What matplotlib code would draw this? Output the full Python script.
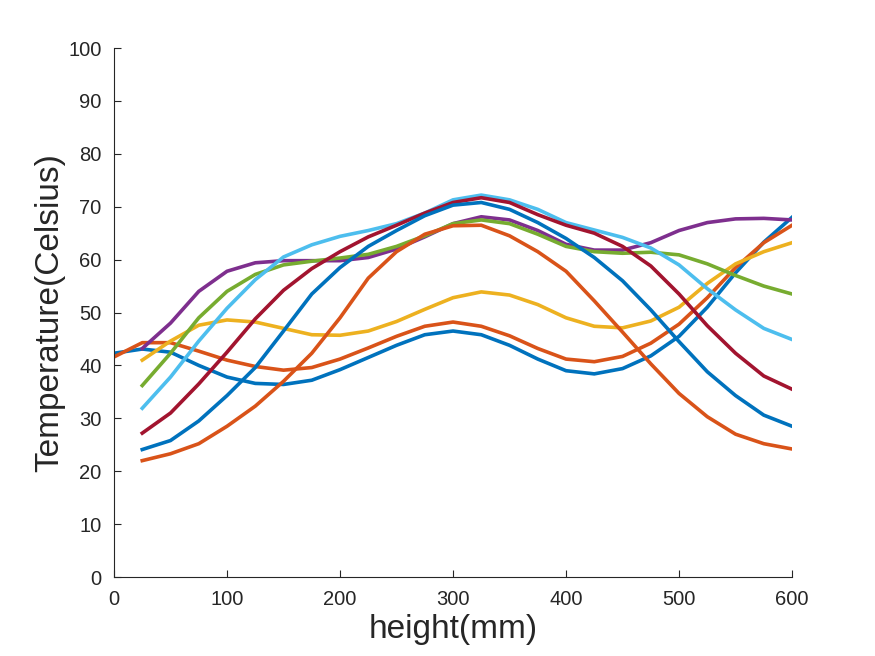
import matplotlib
matplotlib.use('Agg')
import matplotlib.pyplot as plt
import numpy as np

plt.rcParams['font.family'] = ['Liberation Sans', 'DejaVu Sans']

# heights (mm)
x_full = [0, 25, 50, 75, 100, 125, 150, 175, 200, 225, 250, 275, 300,
          325, 350, 375, 400, 425, 450, 475, 500, 525, 550, 575, 600]
x_part = x_full[1:]

# temperature curves (Celsius)
blue1 = [42.3, 43.1, 42.5, 40.0, 37.8, 36.6, 36.4, 37.2, 39.2, 41.5, 43.8, 45.8, 46.5,
         45.8, 43.8, 41.2, 39.0, 38.4, 39.4, 41.8, 45.5, 51.0, 57.5, 63.3, 68.0]
orange1 = [41.6, 44.3, 44.3, 42.7, 41.0, 39.8, 39.1, 39.6, 41.2, 43.3, 45.5, 47.4, 48.2,
           47.4, 45.6, 43.2, 41.2, 40.7, 41.7, 44.2, 47.8, 52.8, 58.5, 63.2, 66.5]
yellow = [41.0, 44.6, 47.6, 48.6, 48.2, 47.0, 45.8, 45.7, 46.5, 48.3, 50.6, 52.8,
          53.9, 53.3, 51.5, 49.0, 47.4, 47.1, 48.4, 51.0, 55.5, 59.2, 61.5, 63.2]
purple = [43.2, 48.0, 54.0, 57.8, 59.4, 59.8, 59.8, 59.8, 60.4, 62.0, 64.3, 66.8,
          68.1, 67.5, 65.5, 62.9, 61.8, 61.8, 63.2, 65.5, 67.0, 67.7, 67.8, 67.5]
green = [36.2, 42.3, 49.0, 54.0, 57.2, 59.0, 59.7, 60.3, 61.0, 62.5, 64.5, 66.8,
         67.5, 66.8, 64.8, 62.5, 61.5, 61.2, 61.4, 60.9, 59.2, 57.0, 55.0, 53.5]
lightblue = [31.9, 37.8, 44.6, 50.8, 56.2, 60.5, 62.8, 64.4, 65.5, 66.8, 68.8, 71.3,
             72.2, 71.3, 69.5, 67.0, 65.6, 64.2, 62.2, 59.0, 54.5, 50.5, 47.0, 44.9]
darkred = [27.2, 31.0, 36.5, 42.5, 48.8, 54.2, 58.3, 61.5, 64.3, 66.5, 68.8, 70.8,
           71.7, 70.8, 68.5, 66.5, 65.0, 62.5, 58.8, 53.5, 47.5, 42.3, 38.0, 35.5]
blue2 = [24.1, 25.8, 29.5, 34.3, 39.6, 46.5, 53.5, 58.5, 62.5, 65.5, 68.3, 70.3,
         70.8, 69.5, 67.0, 64.0, 60.4, 56.0, 50.5, 44.5, 38.8, 34.3, 30.6, 28.5]
orange2 = [22.0, 23.3, 25.2, 28.5, 32.3, 37.0, 42.3, 49.0, 56.5, 61.5, 64.8, 66.4,
           66.5, 64.5, 61.5, 57.8, 52.2, 46.3, 40.3, 34.7, 30.3, 27.0, 25.2, 24.2]

series = [
    (x_full, blue1, '#0072BD'),
    (x_full, orange1, '#D95319'),
    (x_part, yellow, '#EDB120'),
    (x_part, purple, '#7E2F8E'),
    (x_part, green, '#77AC30'),
    (x_part, lightblue, '#4DBEEE'),
    (x_part, darkred, '#A2142F'),
    (x_part, blue2, '#0072BD'),
    (x_part, orange2, '#D95319'),
]

fig = plt.figure(figsize=(8.75, 6.56), dpi=100)
ax = fig.add_axes([0.1303, 0.1204, 0.7749, 0.8064])

for xs, ys, c in series:
    ax.plot(xs, ys, color=c, linewidth=2.6, solid_joinstyle='round')

ax.set_xlim(0, 600)
ax.set_ylim(0, 100)
ax.set_xticks(np.arange(0, 601, 100))
ax.set_yticks(np.arange(0, 101, 10))

txt = '#262626'
for s in ['top', 'right']:
    ax.spines[s].set_visible(False)
for s in ['left', 'bottom']:
    ax.spines[s].set_color(txt)
    ax.spines[s].set_linewidth(0.8)
ax.tick_params(direction='in', length=5, width=0.8, colors=txt, labelsize=14.5, pad=9)

ax.set_xlabel('height(mm)', fontsize=24, color=txt, labelpad=4)
ax.set_ylabel('Temperature(Celsius)', fontsize=24, color=txt, labelpad=2)

fig.savefig('out.png', dpi=100)
